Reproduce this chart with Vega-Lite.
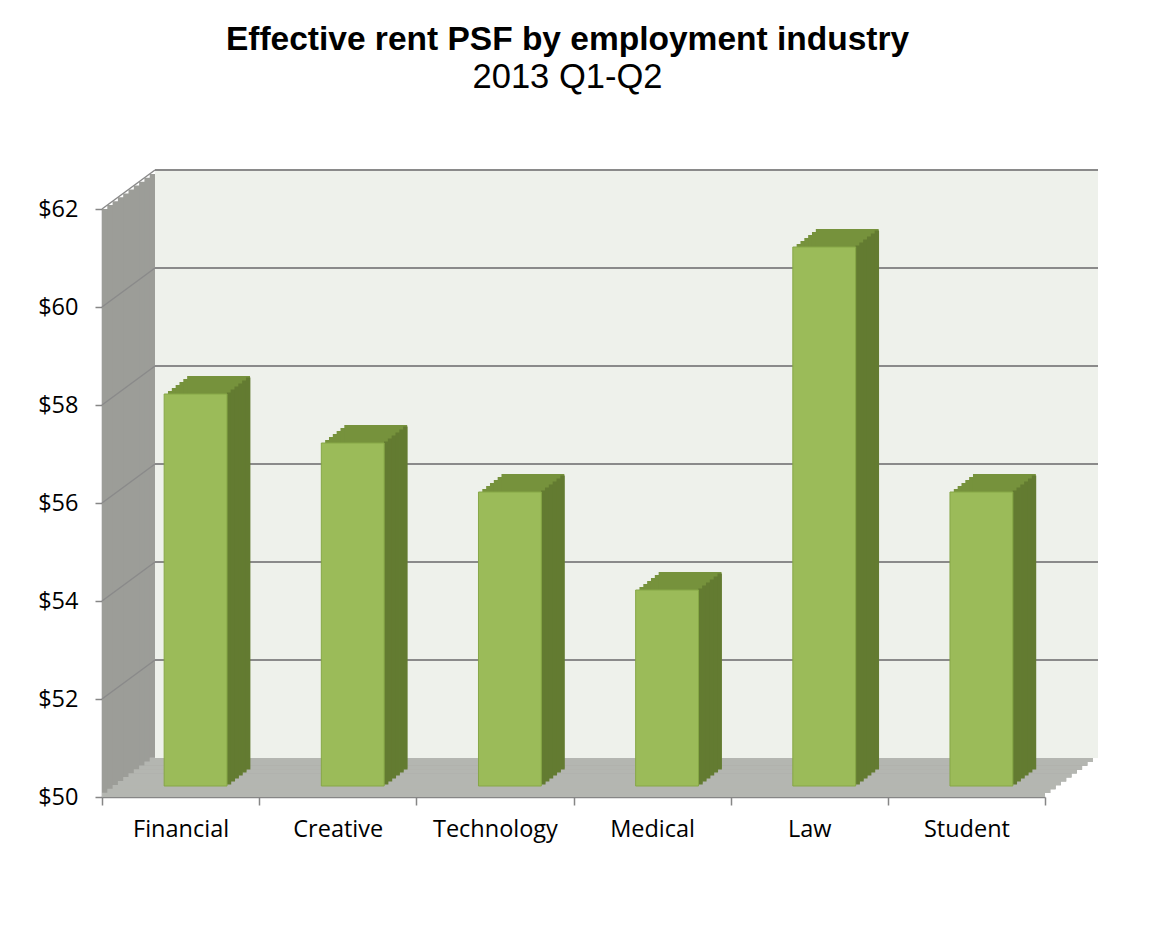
{
  "$schema": "https://vega.github.io/schema/vega-lite/v6.json",
  "width": 943,
  "height": 588,
  "autosize": {"type": "none"},
  "padding": {"left": 102, "top": 209, "right": 120, "bottom": 140},
  "background": "white",
  "title": {
    "text": "Effective rent PSF by employment industry",
    "subtitle": "2013 Q1-Q2",
    "anchor": "middle",
    "dx": -6,
    "offset": 74,
    "font": "Liberation Sans",
    "fontSize": 33.5,
    "fontWeight": "bold",
    "color": "#000000",
    "subtitleFont": "Liberation Sans",
    "subtitleFontSize": 34.5,
    "subtitleColor": "#000000",
    "subtitlePadding": 3
  },
  "datasets": {
    "rent": [
      {"industry": "Financial", "rent": 58},
      {"industry": "Creative", "rent": 57},
      {"industry": "Technology", "rent": 56},
      {"industry": "Medical", "rent": 54},
      {"industry": "Law", "rent": 61},
      {"industry": "Student", "rent": 56}
    ],
    "wall": [{"first": "Financial", "last": "Student", "lo": 50, "hi": 62}],
    "grid": [{"tick": 52, "first": "Financial", "last": "Student"}, {"tick": 54, "first": "Financial", "last": "Student"}, {"tick": 56, "first": "Financial", "last": "Student"}, {"tick": 58, "first": "Financial", "last": "Student"}, {"tick": 60, "first": "Financial", "last": "Student"}, {"tick": 62, "first": "Financial", "last": "Student"}]
  },
  "layer": [
    {"data": {"name": "wall"}, "mark": {"type": "rect", "color": "#9C9D98", "xOffset": 0, "x2Offset": 0, "yOffset": 0, "y2Offset": 0}, "encoding": {"x": {"field": "first", "type": "nominal", "sort": null, "bandPosition": 0, "title": null}, "x2": {"field": "last", "bandPosition": 1}, "y": {"field": "lo", "type": "quantitative", "title": null}, "y2": {"field": "hi"}}},
    {"data": {"name": "wall"}, "mark": {"type": "rect", "color": "#9C9D98", "xOffset": 5.3, "x2Offset": 5.3, "yOffset": -3.9, "y2Offset": -3.9}, "encoding": {"x": {"field": "first", "type": "nominal", "sort": null, "bandPosition": 0, "title": null}, "x2": {"field": "last", "bandPosition": 1}, "y": {"field": "lo", "type": "quantitative", "title": null}, "y2": {"field": "hi"}}},
    {"data": {"name": "wall"}, "mark": {"type": "rect", "color": "#9C9D98", "xOffset": 10.6, "x2Offset": 10.6, "yOffset": -7.8, "y2Offset": -7.8}, "encoding": {"x": {"field": "first", "type": "nominal", "sort": null, "bandPosition": 0, "title": null}, "x2": {"field": "last", "bandPosition": 1}, "y": {"field": "lo", "type": "quantitative", "title": null}, "y2": {"field": "hi"}}},
    {"data": {"name": "wall"}, "mark": {"type": "rect", "color": "#9C9D98", "xOffset": 15.9, "x2Offset": 15.9, "yOffset": -11.7, "y2Offset": -11.7}, "encoding": {"x": {"field": "first", "type": "nominal", "sort": null, "bandPosition": 0, "title": null}, "x2": {"field": "last", "bandPosition": 1}, "y": {"field": "lo", "type": "quantitative", "title": null}, "y2": {"field": "hi"}}},
    {"data": {"name": "wall"}, "mark": {"type": "rect", "color": "#9C9D98", "xOffset": 21.2, "x2Offset": 21.2, "yOffset": -15.6, "y2Offset": -15.6}, "encoding": {"x": {"field": "first", "type": "nominal", "sort": null, "bandPosition": 0, "title": null}, "x2": {"field": "last", "bandPosition": 1}, "y": {"field": "lo", "type": "quantitative", "title": null}, "y2": {"field": "hi"}}},
    {"data": {"name": "wall"}, "mark": {"type": "rect", "color": "#9C9D98", "xOffset": 26.5, "x2Offset": 26.5, "yOffset": -19.5, "y2Offset": -19.5}, "encoding": {"x": {"field": "first", "type": "nominal", "sort": null, "bandPosition": 0, "title": null}, "x2": {"field": "last", "bandPosition": 1}, "y": {"field": "lo", "type": "quantitative", "title": null}, "y2": {"field": "hi"}}},
    {"data": {"name": "wall"}, "mark": {"type": "rect", "color": "#9C9D98", "xOffset": 31.8, "x2Offset": 31.8, "yOffset": -23.4, "y2Offset": -23.4}, "encoding": {"x": {"field": "first", "type": "nominal", "sort": null, "bandPosition": 0, "title": null}, "x2": {"field": "last", "bandPosition": 1}, "y": {"field": "lo", "type": "quantitative", "title": null}, "y2": {"field": "hi"}}},
    {"data": {"name": "wall"}, "mark": {"type": "rect", "color": "#9C9D98", "xOffset": 37.1, "x2Offset": 37.1, "yOffset": -27.3, "y2Offset": -27.3}, "encoding": {"x": {"field": "first", "type": "nominal", "sort": null, "bandPosition": 0, "title": null}, "x2": {"field": "last", "bandPosition": 1}, "y": {"field": "lo", "type": "quantitative", "title": null}, "y2": {"field": "hi"}}},
    {"data": {"name": "wall"}, "mark": {"type": "rect", "color": "#9C9D98", "xOffset": 42.4, "x2Offset": 42.4, "yOffset": -31.2, "y2Offset": -31.2}, "encoding": {"x": {"field": "first", "type": "nominal", "sort": null, "bandPosition": 0, "title": null}, "x2": {"field": "last", "bandPosition": 1}, "y": {"field": "lo", "type": "quantitative", "title": null}, "y2": {"field": "hi"}}},
    {"data": {"name": "wall"}, "mark": {"type": "rect", "color": "#9C9D98", "xOffset": 47.7, "x2Offset": 47.7, "yOffset": -35.1, "y2Offset": -35.1}, "encoding": {"x": {"field": "first", "type": "nominal", "sort": null, "bandPosition": 0, "title": null}, "x2": {"field": "last", "bandPosition": 1}, "y": {"field": "lo", "type": "quantitative", "title": null}, "y2": {"field": "hi"}}},

    {"data": {"name": "wall"}, "mark": {"type": "rect", "color": "#B4B6B1", "xOffset": 0, "x2Offset": 0, "yOffset": 0, "y2Offset": -4.3}, "encoding": {"x": {"field": "first", "type": "nominal", "sort": null, "bandPosition": 0, "title": null}, "x2": {"field": "last", "bandPosition": 1}, "y": {"field": "lo", "type": "quantitative", "title": null}, "y2": {"field": "lo"}}},
    {"data": {"name": "wall"}, "mark": {"type": "rect", "color": "#B4B6B1", "xOffset": 5.3, "x2Offset": 5.3, "yOffset": -3.9, "y2Offset": -8.2}, "encoding": {"x": {"field": "first", "type": "nominal", "sort": null, "bandPosition": 0, "title": null}, "x2": {"field": "last", "bandPosition": 1}, "y": {"field": "lo", "type": "quantitative", "title": null}, "y2": {"field": "lo"}}},
    {"data": {"name": "wall"}, "mark": {"type": "rect", "color": "#B4B6B1", "xOffset": 10.6, "x2Offset": 10.6, "yOffset": -7.8, "y2Offset": -12.1}, "encoding": {"x": {"field": "first", "type": "nominal", "sort": null, "bandPosition": 0, "title": null}, "x2": {"field": "last", "bandPosition": 1}, "y": {"field": "lo", "type": "quantitative", "title": null}, "y2": {"field": "lo"}}},
    {"data": {"name": "wall"}, "mark": {"type": "rect", "color": "#B4B6B1", "xOffset": 15.9, "x2Offset": 15.9, "yOffset": -11.7, "y2Offset": -16.0}, "encoding": {"x": {"field": "first", "type": "nominal", "sort": null, "bandPosition": 0, "title": null}, "x2": {"field": "last", "bandPosition": 1}, "y": {"field": "lo", "type": "quantitative", "title": null}, "y2": {"field": "lo"}}},
    {"data": {"name": "wall"}, "mark": {"type": "rect", "color": "#B4B6B1", "xOffset": 21.2, "x2Offset": 21.2, "yOffset": -15.6, "y2Offset": -19.9}, "encoding": {"x": {"field": "first", "type": "nominal", "sort": null, "bandPosition": 0, "title": null}, "x2": {"field": "last", "bandPosition": 1}, "y": {"field": "lo", "type": "quantitative", "title": null}, "y2": {"field": "lo"}}},
    {"data": {"name": "wall"}, "mark": {"type": "rect", "color": "#B4B6B1", "xOffset": 26.5, "x2Offset": 26.5, "yOffset": -19.5, "y2Offset": -23.8}, "encoding": {"x": {"field": "first", "type": "nominal", "sort": null, "bandPosition": 0, "title": null}, "x2": {"field": "last", "bandPosition": 1}, "y": {"field": "lo", "type": "quantitative", "title": null}, "y2": {"field": "lo"}}},
    {"data": {"name": "wall"}, "mark": {"type": "rect", "color": "#B4B6B1", "xOffset": 31.8, "x2Offset": 31.8, "yOffset": -23.4, "y2Offset": -27.7}, "encoding": {"x": {"field": "first", "type": "nominal", "sort": null, "bandPosition": 0, "title": null}, "x2": {"field": "last", "bandPosition": 1}, "y": {"field": "lo", "type": "quantitative", "title": null}, "y2": {"field": "lo"}}},
    {"data": {"name": "wall"}, "mark": {"type": "rect", "color": "#B4B6B1", "xOffset": 37.1, "x2Offset": 37.1, "yOffset": -27.3, "y2Offset": -31.6}, "encoding": {"x": {"field": "first", "type": "nominal", "sort": null, "bandPosition": 0, "title": null}, "x2": {"field": "last", "bandPosition": 1}, "y": {"field": "lo", "type": "quantitative", "title": null}, "y2": {"field": "lo"}}},
    {"data": {"name": "wall"}, "mark": {"type": "rect", "color": "#B4B6B1", "xOffset": 42.4, "x2Offset": 42.4, "yOffset": -31.2, "y2Offset": -35.5}, "encoding": {"x": {"field": "first", "type": "nominal", "sort": null, "bandPosition": 0, "title": null}, "x2": {"field": "last", "bandPosition": 1}, "y": {"field": "lo", "type": "quantitative", "title": null}, "y2": {"field": "lo"}}},
    {"data": {"name": "wall"}, "mark": {"type": "rect", "color": "#B4B6B1", "xOffset": 47.7, "x2Offset": 47.7, "yOffset": -35.1, "y2Offset": -39.4}, "encoding": {"x": {"field": "first", "type": "nominal", "sort": null, "bandPosition": 0, "title": null}, "x2": {"field": "last", "bandPosition": 1}, "y": {"field": "lo", "type": "quantitative", "title": null}, "y2": {"field": "lo"}}},

    {"data": {"name": "wall"}, "mark": {"type": "rect", "color": "#EEF1EB", "xOffset": 53, "x2Offset": 53, "yOffset": -39, "y2Offset": -39}, "encoding": {"x": {"field": "first", "type": "nominal", "sort": null, "bandPosition": 0, "title": null}, "x2": {"field": "last", "bandPosition": 1}, "y": {"field": "lo", "type": "quantitative", "title": null}, "y2": {"field": "hi"}}},

    {"data": {"name": "grid"}, "mark": {"type": "rule", "color": "#8A8A8A", "strokeWidth": 2, "xOffset": 53, "x2Offset": 53, "yOffset": -39, "y2Offset": -39}, "encoding": {"x": {"field": "first", "type": "nominal", "sort": null, "bandPosition": 0, "title": null}, "x2": {"field": "last", "bandPosition": 1}, "y": {"field": "tick", "type": "quantitative", "title": null}, "y2": {"field": "tick"}}},
    {"data": {"name": "grid"}, "mark": {"type": "rule", "color": "#8A8A8A", "strokeWidth": 1.5, "xOffset": 0, "x2Offset": 53, "yOffset": 0, "y2Offset": -39}, "encoding": {"x": {"field": "first", "type": "nominal", "sort": null, "bandPosition": 0, "title": null}, "x2": {"field": "first", "bandPosition": 0}, "y": {"field": "tick", "type": "quantitative", "title": null}, "y2": {"field": "tick"}}},

    {"data": {"name": "rent"}, "mark": {"type": "bar", "color": "#76923C", "width": {"band": 0.4}, "xOffset": 18.83, "x2Offset": 18.83, "yOffset": -14, "y2Offset": -14}, "encoding": {"x": {"field": "industry", "type": "nominal", "sort": null, "title": null}, "y": {"field": "rent", "type": "quantitative", "title": null}, "y2": {"datum": 50}}},
    {"data": {"name": "rent"}, "mark": {"type": "bar", "color": "#76923C", "width": {"band": 0.4}, "xOffset": 22.67, "x2Offset": 22.67, "yOffset": -17, "y2Offset": -17}, "encoding": {"x": {"field": "industry", "type": "nominal", "sort": null, "title": null}, "y": {"field": "rent", "type": "quantitative", "title": null}, "y2": {"datum": 50}}},
    {"data": {"name": "rent"}, "mark": {"type": "bar", "color": "#76923C", "width": {"band": 0.4}, "xOffset": 26.5, "x2Offset": 26.5, "yOffset": -20, "y2Offset": -20}, "encoding": {"x": {"field": "industry", "type": "nominal", "sort": null, "title": null}, "y": {"field": "rent", "type": "quantitative", "title": null}, "y2": {"datum": 50}}},
    {"data": {"name": "rent"}, "mark": {"type": "bar", "color": "#76923C", "width": {"band": 0.4}, "xOffset": 30.33, "x2Offset": 30.33, "yOffset": -23, "y2Offset": -23}, "encoding": {"x": {"field": "industry", "type": "nominal", "sort": null, "title": null}, "y": {"field": "rent", "type": "quantitative", "title": null}, "y2": {"datum": 50}}},
    {"data": {"name": "rent"}, "mark": {"type": "bar", "color": "#76923C", "width": {"band": 0.4}, "xOffset": 34.17, "x2Offset": 34.17, "yOffset": -26, "y2Offset": -26}, "encoding": {"x": {"field": "industry", "type": "nominal", "sort": null, "title": null}, "y": {"field": "rent", "type": "quantitative", "title": null}, "y2": {"datum": 50}}},
    {"data": {"name": "rent"}, "mark": {"type": "bar", "color": "#76923C", "width": {"band": 0.4}, "xOffset": 38, "x2Offset": 38, "yOffset": -29, "y2Offset": -29}, "encoding": {"x": {"field": "industry", "type": "nominal", "sort": null, "title": null}, "y": {"field": "rent", "type": "quantitative", "title": null}, "y2": {"datum": 50}}},

    {"data": {"name": "rent"}, "mark": {"type": "bar", "color": "#637B31", "width": 4.4, "xOffset": 48.43, "x2Offset": 48.43, "yOffset": -12.5, "y2Offset": -12.5}, "encoding": {"x": {"field": "industry", "type": "nominal", "sort": null, "title": null}, "y": {"field": "rent", "type": "quantitative", "title": null}, "y2": {"datum": 50}}},
    {"data": {"name": "rent"}, "mark": {"type": "bar", "color": "#637B31", "width": 4.4, "xOffset": 52.27, "x2Offset": 52.27, "yOffset": -15.5, "y2Offset": -15.5}, "encoding": {"x": {"field": "industry", "type": "nominal", "sort": null, "title": null}, "y": {"field": "rent", "type": "quantitative", "title": null}, "y2": {"datum": 50}}},
    {"data": {"name": "rent"}, "mark": {"type": "bar", "color": "#637B31", "width": 4.4, "xOffset": 56.1, "x2Offset": 56.1, "yOffset": -18.5, "y2Offset": -18.5}, "encoding": {"x": {"field": "industry", "type": "nominal", "sort": null, "title": null}, "y": {"field": "rent", "type": "quantitative", "title": null}, "y2": {"datum": 50}}},
    {"data": {"name": "rent"}, "mark": {"type": "bar", "color": "#637B31", "width": 4.4, "xOffset": 59.93, "x2Offset": 59.93, "yOffset": -21.5, "y2Offset": -21.5}, "encoding": {"x": {"field": "industry", "type": "nominal", "sort": null, "title": null}, "y": {"field": "rent", "type": "quantitative", "title": null}, "y2": {"datum": 50}}},
    {"data": {"name": "rent"}, "mark": {"type": "bar", "color": "#637B31", "width": 4.4, "xOffset": 63.77, "x2Offset": 63.77, "yOffset": -24.5, "y2Offset": -24.5}, "encoding": {"x": {"field": "industry", "type": "nominal", "sort": null, "title": null}, "y": {"field": "rent", "type": "quantitative", "title": null}, "y2": {"datum": 50}}},
    {"data": {"name": "rent"}, "mark": {"type": "bar", "color": "#637B31", "width": 4.4, "xOffset": 67.6, "x2Offset": 67.6, "yOffset": -27.5, "y2Offset": -27.5}, "encoding": {"x": {"field": "industry", "type": "nominal", "sort": null, "title": null}, "y": {"field": "rent", "type": "quantitative", "title": null}, "y2": {"datum": 50}}},

    {"data": {"name": "rent"}, "mark": {"type": "bar", "color": "#9BBB59", "stroke": "#86A746", "strokeWidth": 1, "width": {"band": 0.4}, "xOffset": 15, "x2Offset": 15, "yOffset": -11, "y2Offset": -11},
      "encoding": {
        "x": {"field": "industry", "type": "nominal", "sort": null, "title": null,
              "scale": {"domain": ["Financial", "Creative", "Technology", "Medical", "Law", "Student"], "paddingInner": 0, "paddingOuter": 0},
              "axis": {"tickBand": "extent", "bandPosition": 0.5, "labelAlign": "center", "labelFlush": false, "labelBound": false, "labelOverlap": false, "labelAngle": 0}},
        "y": {"field": "rent", "type": "quantitative", "title": null,
              "scale": {"domain": [50, 62], "zero": false, "nice": false},
              "axis": {"values": [50, 52, 54, 56, 58, 60, 62], "labelExpr": "'$' + datum.value"}},
        "y2": {"datum": 50}
      }}
  ],
  "config": {
    "view": {"stroke": null},
    "axis": {
      "grid": false,
      "zindex": 1,
      "domainColor": "#868686",
      "domainWidth": 1.5,
      "tickColor": "#868686",
      "tickWidth": 1.5,
      "labelFont": "Open Sans",
      "labelFontSize": 23.5,
      "labelColor": "#000000"
    },
    "axisY": {"tickSize": 7, "labelPadding": 17},
    "axisX": {"tickSize": 8, "labelPadding": 24}
  }
}
